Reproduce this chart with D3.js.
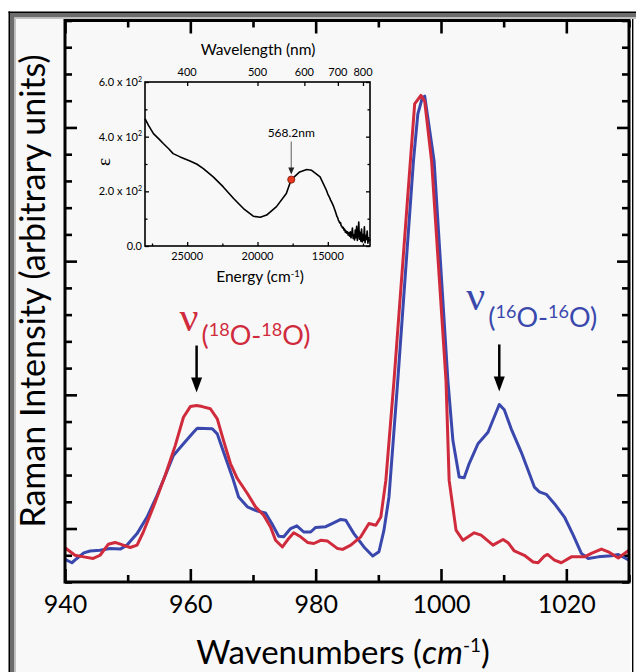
<!DOCTYPE html>
<html>
<head>
<meta charset="utf-8">
<script src="https://cdn.jsdelivr.net/npm/d3@7"></script>
<style>
  html, body { margin: 0; padding: 0; background: #ffffff; }
  svg { display: block; }
  text { font-family: Lato, "Open Sans", "DejaVu Sans", sans-serif; fill: #000; }
</style>
</head>
<body>
<svg id="chart" width="636" height="672"></svg>
<script>
// ---------------- Raman spectra (intensity in arbitrary units) ----------------
const blueWavenumber = [940.0, 941.1, 941.9, 943.0, 944.0, 945.6, 947.2, 948.8, 949.9, 951.5,
  953.1, 954.7, 956.0, 957.3, 958.9, 960.5, 961.1, 963.5, 964.3, 965.3,
  966.7, 967.7, 969.1, 970.7, 972.0, 973.0, 974.1, 974.9, 976.0, 977.0,
  978.1, 979.2, 980.0, 981.6, 982.7, 984.0, 984.8, 986.1, 987.7, 989.1,
  990.1, 990.9, 991.7, 993.1, 995.6, 996.3, 997.0, 997.4, 997.9, 998.9,
  1001.1, 1001.9, 1002.9, 1003.7, 1004.5, 1005.9, 1007.5, 1009.3, 1010.1, 1011.2,
  1012.8, 1013.9, 1014.9, 1015.7, 1016.8, 1018.1, 1019.7, 1021.1, 1022.4, 1023.5,
  1025.1, 1027.2, 1028.3, 1030.0];
const blueIntensity = [-1.15, -1.28, -1.12, -0.91, -0.84, -0.81, -0.75, -0.77, -0.62, -0.19,
  0.43, 1.24, 1.99, 2.73, 3.17, 3.60, 3.75, 3.73, 3.54, 2.86,
  1.93, 1.18, 0.81, 0.65, 0.58, 0.19, -0.29, -0.31, 0.00, 0.10,
  -0.13, -0.13, 0.04, 0.07, 0.19, 0.34, 0.31, -0.19, -0.69, -1.03,
  -0.87, -0.06, 1.18, 5.53, 13.74, 15.50, 16.10, 16.17, 15.36, 13.74,
  5.53, 3.29, 1.93, 1.90, 2.43, 3.17, 3.60, 4.64, 4.44, 3.73,
  2.86, 2.18, 1.55, 1.37, 1.28, 0.93, 0.43, -0.25, -0.93, -1.12,
  -1.06, -1.02, -0.97, -1.18];

const redWavenumber = [940.0, 941.6, 943.0, 944.5, 945.6, 946.9, 948.0, 949.3, 950.4, 951.5,
  952.5, 954.1, 956.0, 957.6, 958.9, 960.0, 961.0, 961.9, 963.2, 964.3,
  965.3, 966.4, 967.5, 969.1, 970.4, 971.7, 972.8, 973.6, 974.7, 975.7,
  976.5, 977.6, 978.7, 979.7, 980.8, 981.9, 983.5, 984.3, 985.6, 987.2,
  988.5, 989.6, 990.4, 991.2, 992.5, 995.1, 995.8, 996.8, 997.4, 998.5,
  1000.8, 1001.3, 1002.4, 1003.5, 1005.3, 1006.4, 1008.3, 1009.9, 1010.7, 1011.7,
  1013.3, 1014.7, 1015.5, 1016.5, 1017.0, 1018.1, 1019.2, 1020.8, 1022.9, 1024.0,
  1025.6, 1026.7, 1028.3, 1030.0];
const redIntensity = [-0.72, -1.00, -1.06, -1.12, -1.00, -0.59, -0.52, -0.62, -0.71, -0.62,
  -0.13, 0.81, 1.99, 3.11, 4.16, 4.56, 4.60, 4.56, 4.48, 4.10,
  3.29, 2.43, 1.87, 1.31, 0.81, 0.50, 0.06, -0.44, -0.69, -0.37,
  -0.16, -0.31, -0.52, -0.56, -0.44, -0.47, -0.75, -0.78, -0.62, -0.31,
  0.19, 0.12, 0.43, 1.80, 5.53, 13.70, 15.88, 16.20, 15.98, 13.74,
  5.53, 1.80, -0.06, -0.44, -0.16, -0.25, -0.62, -0.41, -0.53, -0.84,
  -1.00, -1.25, -1.28, -1.03, -0.97, -1.18, -1.28, -1.06, -1.06, -0.93,
  -0.77, -0.87, -1.10, -0.81];

// Main axis ticks
const xMajorTicks = [940, 960, 980, 1000, 1020];
const xMinorTicks = [950, 970, 990, 1010, 1030];
const yMajorTicks = [0, 5, 10, 15];
const yAllTicks = d3.range(-2, 20, 1);

// Band annotations
const bandIsotopes = ["18", "16"];
const bandPositions = [961.0, 1009.3];
const bandPeaks = [4.60, 4.64];

// ---------------- Inset: absorption spectrum ----------------
const insetEnergy = [28000, 27760, 27400, 27000, 26700, 26300, 26000, 25500, 24800, 24300,
  23850, 23150, 22450, 21700, 21000, 20300, 19800, 19350, 18650, 17950,
  17600, 17000, 16500, 16150, 15550, 15100, 15000, 14900, 14800, 14700,
  14600, 14500, 14450, 14400, 14350, 14300, 14250, 14200, 14150, 14100,
  14050, 14000, 13950, 13900, 13850, 13800, 13750, 13700, 13650, 13600,
  13550, 13500, 13450, 13400, 13350, 13300, 13250, 13200, 13150, 13100,
  13050, 13000, 12950, 12900, 12850, 12800, 12750, 12700, 12650, 12600,
  12550, 12500, 12450, 12400, 12350, 12300, 12250, 12200, 12150, 12100,
  12050, 12000];
const insetEpsilon = [466, 442, 411, 391, 375, 355, 338, 326, 311, 299,
  283, 253, 217, 174, 137, 109, 105, 113, 144, 192,
  243, 271, 280, 277, 253, 204, 190, 180, 168, 158,
  146, 132, 124, 116, 108, 104, 95, 90, 84, 86,
  74, 72, 66, 68, 58, 62, 50, 55, 47, 52,
  40, 48, 36, 52, 30, 44, 66, 28, 40, 22,
  58, 30, 72, 20, 45, 88, 25, 50, 18, 62,
  15, 42, 20, 70, 12, 38, 24, 55, 10, 30,
  18, 25];
const insetEpsTicks = [0, 200, 400, 600];
const insetEpsMinor = [100, 300, 500];
const insetEnergyTicks = [25000, 20000, 15000];
const insetEnergyMinor = [27500, 22500, 17500, 12500];
const insetWavelengthTicks = [400, 500, 600, 700, 800];
const markedWavelength = 568.2;
const markedEpsilon = 243;

const RED = "#d02b3c";
const BLUE = "#3a48ad";

const svg = d3.select("#chart");

// ---------------- page frame ----------------
svg.append("rect").attr("x", 9).attr("y", 12).attr("width", 623).attr("height", 660).attr("fill", "#f8f8f8");
svg.append("rect").attr("x", 8.5).attr("y", 11.5).attr("width", 628).attr("height", 1.6).attr("fill", "#000");
svg.append("rect").attr("x", 8.5).attr("y", 11.5).attr("width", 1.6).attr("height", 661).attr("fill", "#000");
svg.append("rect").attr("x", 10).attr("y", 13).attr("width", 626).attr("height", 4.5).attr("fill", "#6c6c6c");
svg.append("rect").attr("x", 10).attr("y", 13).attr("width", 4.5).attr("height", 659).attr("fill", "#6c6c6c");
svg.append("rect").attr("x", 14.5).attr("y", 17.5).attr("width", 622).attr("height", 1.5).attr("fill", "#c3c3c3");
svg.append("rect").attr("x", 14.5).attr("y", 17.5).attr("width", 1.5).attr("height", 655).attr("fill", "#c3c3c3");
svg.append("rect").attr("x", 630.5).attr("y", 19).attr("width", 1.5).attr("height", 653).attr("fill", "#ffffff");
svg.append("rect").attr("x", 632).attr("y", 19).attr("width", 1.4).attr("height", 653).attr("fill", "#000");

// ---------------- main plot ----------------
const plot = { left: 65, right: 629, top: 20.5, bottom: 582 };
const x = d3.scaleLinear().domain([940, 1030]).range([plot.left, plot.right]);
const y = d3.scaleLinear().domain([-2, 19]).range([plot.bottom, plot.top]);

svg.append("clipPath").attr("id", "plotClip")
  .append("rect").attr("x", plot.left).attr("y", plot.top)
  .attr("width", plot.right - plot.left).attr("height", plot.bottom - plot.top);

function tickAxis(axisFn, scale, values, size, tx, ty, labels) {
  const a = axisFn(scale).tickValues(values).tickSize(-size).tickPadding(0)
    .tickFormat(labels ? d3.format("d") : "");
  const g = svg.append("g").attr("transform", `translate(${tx},${ty})`).call(a);
  g.select(".domain").remove();
  g.selectAll(".tick line").attr("stroke", "#000").attr("stroke-width", 2.6);
  return g;
}

// bottom & top
const xb = tickAxis(d3.axisBottom, x, xMajorTicks, 13, 0, plot.bottom, true);
xb.selectAll(".tick text").attr("y", 31).attr("dy", null)
  .style("font-size", "25px").style("font-family", "Lato, sans-serif");
tickAxis(d3.axisBottom, x, xMinorTicks, 7, 0, plot.bottom, false);
tickAxis(d3.axisTop, x, xMajorTicks, 13, 0, plot.top, false);
tickAxis(d3.axisTop, x, xMinorTicks, 7, 0, plot.top, false);
// left & right
tickAxis(d3.axisLeft, y, yAllTicks.filter(v => !yMajorTicks.includes(v)), 7, plot.left, 0, false);
tickAxis(d3.axisLeft, y, yMajorTicks, 12, plot.left, 0, false);
tickAxis(d3.axisRight, y, yAllTicks.filter(v => !yMajorTicks.includes(v)), 7, plot.right, 0, false);
tickAxis(d3.axisRight, y, yMajorTicks, 12, plot.right, 0, false);

// spectra
const line = d3.line().x(d => x(d[0])).y(d => y(d[1]));
const blueData = blueWavenumber.map((w, i) => [w, blueIntensity[i]]);
const redData = redWavenumber.map((w, i) => [w, redIntensity[i]]);
const curves = svg.append("g").attr("clip-path", "url(#plotClip)");
curves.append("path").datum(blueData).attr("d", line)
  .attr("fill", "none").attr("stroke", BLUE).attr("stroke-width", 3).attr("stroke-linejoin", "round");
curves.append("path").datum(redData).attr("d", line)
  .attr("fill", "none").attr("stroke", RED).attr("stroke-width", 3).attr("stroke-linejoin", "round");

// plot frame
svg.append("rect").attr("x", plot.left).attr("y", plot.top)
  .attr("width", plot.right - plot.left).attr("height", plot.bottom - plot.top)
  .attr("fill", "none").attr("stroke", "#000").attr("stroke-width", 3);

// axis titles
svg.append("text").attr("transform", "translate(45,291) rotate(-90)")
  .attr("text-anchor", "middle").style("font-size", "34px")
  .text("Raman Intensity (arbitrary units)");
const xt = svg.append("text").attr("x", 343).attr("y", 664)
  .attr("text-anchor", "middle").style("font-size", "33px");
xt.append("tspan").text("Wavenumbers (");
xt.append("tspan").style("font-style", "italic").text("cm");
xt.append("tspan").attr("dy", -12).style("font-size", "19px").text("-1");
xt.append("tspan").attr("dy", 12).text(")");

// band labels with arrows
const bandColors = [RED, BLUE];
const labelOffsets = [[-17, -58, -44], [-33, -77, -60]]; // [dx of nu, dy of nu, dy of isotope group]
bandPositions.forEach((w, i) => {
  const cx = x(w);
  const tipY = y(bandPeaks[i]) - 13;
  const topY = tipY - 47;
  svg.append("line").attr("x1", cx).attr("x2", cx).attr("y1", topY).attr("y2", tipY - 12)
    .attr("stroke", "#000").attr("stroke-width", 2.5);
  svg.append("path")
    .attr("d", `M${cx - 5.5},${tipY - 15}L${cx + 5.5},${tipY - 15}L${cx},${tipY}Z`)
    .attr("fill", "#000");
  const [dxNu, dyNu, dyGrp] = labelOffsets[i];
  svg.append("text").attr("x", cx + dxNu).attr("y", y(bandPeaks[i]) + dyNu - 17)
    .style("font-family", "'Liberation Serif', 'DejaVu Serif', serif")
    .style("font-size", "42px").style("fill", bandColors[i]).text("ν");
  const t = svg.append("text").attr("x", cx + dxNu + 22).attr("y", y(bandPeaks[i]) + dyGrp - 17)
    .style("font-size", "27px").style("fill", bandColors[i]);
  t.append("tspan").text("(");
  t.append("tspan").attr("dy", -9).style("font-size", "18px").text(bandIsotopes[i]);
  t.append("tspan").attr("dy", 9).text("O-");
  t.append("tspan").attr("dy", -9).style("font-size", "18px").text(bandIsotopes[i]);
  t.append("tspan").attr("dy", 9).text("O)");
});

// ---------------- inset ----------------
const ib = { left: 145, right: 370, top: 82, bottom: 246 };
const ex = d3.scaleLinear().domain([28000, 12000]).range([ib.left, ib.right]);
const ey = d3.scaleLinear().domain([0, 600]).range([ib.bottom, ib.top]);

function insetAxis(axisFn, scale, values, size, tx, ty) {
  const a = axisFn(scale).tickValues(values).tickSize(-size).tickFormat("");
  const g = svg.append("g").attr("transform", `translate(${tx},${ty})`).call(a);
  g.select(".domain").remove();
  g.selectAll(".tick line").attr("stroke", "#000").attr("stroke-width", 1.3);
}
insetAxis(d3.axisLeft, ey, insetEpsTicks, 4, ib.left, 0);
insetAxis(d3.axisLeft, ey, insetEpsMinor, 2.5, ib.left, 0);
insetAxis(d3.axisRight, ey, insetEpsTicks, 4, ib.right, 0);
insetAxis(d3.axisRight, ey, insetEpsMinor, 2.5, ib.right, 0);
insetAxis(d3.axisBottom, ex, insetEnergyTicks, 4, 0, ib.bottom);
insetAxis(d3.axisBottom, ex, insetEnergyMinor, 2.5, 0, ib.bottom);
insetAxis(d3.axisTop, ex, insetWavelengthTicks.map(l => 1e7 / l), 4, 0, ib.top);

const insetLine = d3.line().x(d => ex(d[0])).y(d => ey(d[1]));
svg.append("path").datum(insetEnergy.map((e, i) => [e, insetEpsilon[i]]))
  .attr("d", insetLine).attr("fill", "none").attr("stroke", "#000")
  .attr("stroke-width", 1.6).attr("stroke-linejoin", "round");

svg.append("rect").attr("x", ib.left).attr("y", ib.top)
  .attr("width", ib.right - ib.left).attr("height", ib.bottom - ib.top)
  .attr("fill", "none").attr("stroke", "#000").attr("stroke-width", 1.6);

// inset tick labels
insetEpsTicks.forEach(v => {
  const t = svg.append("text").attr("x", ib.left - 3).attr("y", ey(v) + 4)
    .attr("text-anchor", "end").style("font-size", "11px");
  if (v === 0) { t.text("0.0"); return; }
  t.append("tspan").text(d3.format(".1f")(v / 100) + " x 10");
  t.append("tspan").attr("dy", -4.5).style("font-size", "7px").text("2");
});
insetEnergyTicks.forEach(v => {
  svg.append("text").attr("x", ex(v)).attr("y", ib.bottom + 14)
    .attr("text-anchor", "middle").style("font-size", "11px").text(v);
});
insetWavelengthTicks.forEach(l => {
  svg.append("text").attr("x", ex(1e7 / l)).attr("y", ib.top - 6)
    .attr("text-anchor", "middle").style("font-size", "11px").text(l);
});
svg.append("text").attr("x", 258).attr("y", 55).attr("text-anchor", "middle")
  .style("font-size", "15.5px").text("Wavelength (nm)");
const et = svg.append("text").attr("x", 260).attr("y", 282).attr("text-anchor", "middle")
  .style("font-size", "15.5px");
et.append("tspan").text("Energy (cm");
et.append("tspan").attr("dy", -5.5).style("font-size", "9.5px").text("-1");
et.append("tspan").attr("dy", 5.5).text(")");
svg.append("text").attr("transform", "translate(110,162) rotate(-90)")
  .attr("text-anchor", "middle")
  .style("font-family", "'Liberation Serif', 'DejaVu Serif', serif")
  .style("font-size", "19px").text("ε");

// marked absorption maximum
const mx = ex(1e7 / markedWavelength), my = ey(markedEpsilon);
svg.append("text").attr("x", mx).attr("y", my - 43).attr("text-anchor", "middle")
  .style("font-size", "12px").text(markedWavelength.toFixed(1) + "nm");
svg.append("line").attr("x1", mx).attr("x2", mx).attr("y1", my - 38).attr("y2", my - 10)
  .attr("stroke", "#777").attr("stroke-width", 1.2);
svg.append("path").attr("d", `M${mx - 3},${my - 12}L${mx + 3},${my - 12}L${mx},${my - 5}Z`).attr("fill", "#222");
svg.append("circle").attr("cx", mx).attr("cy", my).attr("r", 3.6)
  .attr("fill", "#e8391e").attr("stroke", "#7a1a10").attr("stroke-width", 0.8);
</script>
</body>
</html>
